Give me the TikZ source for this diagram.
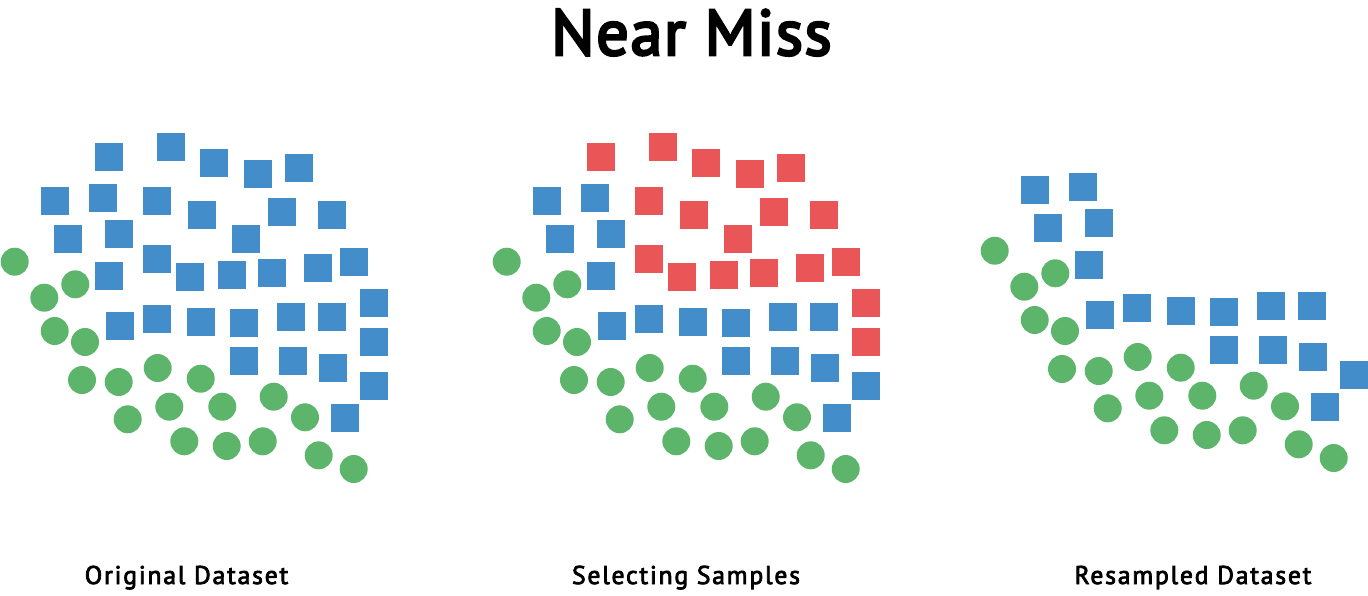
\documentclass[tikz,border=0pt]{standalone}
\usepackage{fontspec}
\setmainfont{PT Sans}
\newfontfamily\titlefont{PT Sans}[FakeBold=4, LetterSpace=2.5]
\newfontfamily\capfont{PT Sans}[FakeBold=3, LetterSpace=7]
\usetikzlibrary{positioning}
\definecolor{bluecol}{RGB}{67,141,203}
\definecolor{redcol}{RGB}{234,85,87}
\definecolor{greencol}{RGB}{92,181,107}
\tikzset{
  sq/.style={rectangle, fill=#1, draw=none, inner sep=0pt, minimum size=0.56cm},
  dot/.style={circle, fill=greencol, draw=none, inner sep=0pt, minimum size=0.56cm},
  caption/.style={font=\capfont\fontsize{14.6}{18}\selectfont, anchor=base}
}
% squares that stay in the resampled set
\newcommand{\keepsq}{54.7/201.3, 103/197.7, 68.3/239, 118.7/234, 109.3/275.7,
  120/326, 157.3/319.3, 201.3/322, 244.3/322.7, 291/317, 331.7/317,
  244.3/361, 292.7/361, 332.7/368, 374/386, 345.3/418.3}
% squares picked out (and removed) by near miss
\newcommand{\picksq}{109.3/157, 171/146.7, 214.3/162.7, 258.3/174, 298.7/167.7,
  157.3/201.3, 201.7/215, 282/211.7, 331.7/215, 245.7/239,
  157.3/259, 189.7/276.7, 232/275.3, 272/273, 318/267.7, 353.7/261.7,
  374/303.3, 374/342.3}
% minority class
\newcommand{\minordots}{14.7/261.7, 44.3/297.7, 75.3/284.3, 54.7/331, 85/342,
  82/380, 118.7/382, 157.7/368, 200.7/378.7, 127.7/419.3, 169.3/406.7,
  222.3/406.7, 273.7/396.7, 305/417.3, 184.3/441.3, 226.7/446, 262.7/441.3,
  318.7/455.3, 353.7/469}

\begin{document}
\begin{tikzpicture}[x=0.02cm, y=-0.02cm]

  \useasboundingbox (0,0) rectangle (1368,595);

  % --- title ---------------------------------------------------------------
  \node[font=\titlefont\fontsize{36.6}{40}\selectfont, anchor=base] (title) at (691.5,55) {Near Miss};

  % --- original dataset ----------------------------------------------------
  \foreach \x/\y [count=\i] in \keepsq
    \node[sq=bluecol] (a-k\i) at (\x,\y) {};
  \foreach \x/\y [count=\i] in \picksq
    \node[sq=bluecol] (a-p\i) at (\x,\y) {};
  \foreach \x/\y [count=\i] in \minordots
    \node[dot] (a-c\i) at (\x,\y) {};
  \node[caption] (orig) at (186.5,584) {Original Dataset};

  % --- selecting samples, same points shifted right -----------------------
  \begin{scope}[xshift=492*0.02cm]
    \foreach \x/\y [count=\i] in \keepsq
      \node[sq=bluecol] (b-k\i) at (\x,\y) {};
    \foreach \x/\y [count=\i] in \picksq
      \node[sq=redcol] (b-p\i) at (\x,\y) {};
    \foreach \x/\y [count=\i] in \minordots
      \node[dot] (b-c\i) at (\x,\y) {};
  \end{scope}
  \node[caption] (select) at (686,584) {Selecting Samples};

  % --- resampled dataset, the red ones dropped -----------------------------
  \begin{scope}[xshift=980*0.02cm, yshift=11*0.02cm]
    \foreach \x/\y [count=\i] in \keepsq
      \node[sq=bluecol] (c-k\i) at (\x,\y) {};
    \foreach \x/\y [count=\i] in \minordots
      \node[dot] (c-c\i) at (\x,\y) {};
  \end{scope}
  \node[caption] (resamp) at (1193,584) {Resampled Dataset};

\end{tikzpicture}
\end{document}
